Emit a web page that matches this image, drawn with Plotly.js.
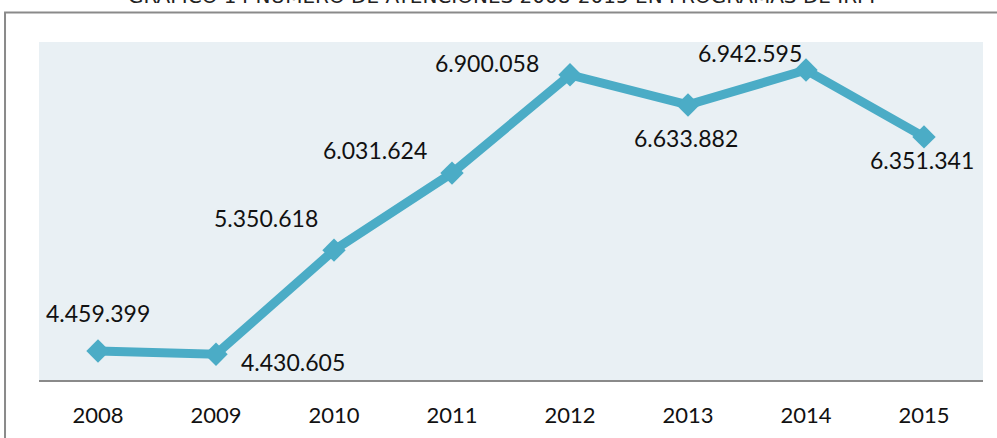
<!DOCTYPE html>
<html>
<head>
<meta charset="utf-8">
<script src="https://cdn.plot.ly/plotly-3.0.1.min.js"></script>
<style>
html,body{margin:0;padding:0;background:#fff;}
#chart{width:997px;height:438px;}
</style>
</head>
<body>
<div id="chart"></div>
<script>
const years = ["2008","2009","2010","2011","2012","2013","2014","2015"];
const atenciones = [4459399, 4430605, 5350618, 6031624, 6900058, 6633882, 6942595, 6351341];
const labels = ["4.459.399","4.430.605","5.350.618","6.031.624","6.900.058","6.633.882","6.942.595","6.351.341"];
const labelShiftX = [0, 77, -68, -77, -83, -2, -56, -2];
const labelShiftY = [38, -8, 32, 23, 12, -33, 17, -23];
const titleText = "GRÁFICO 14 NÚMERO DE ATENCIONES 2008-2015 EN PROGRAMAS DE IRPF";

const trace = {
  x: years,
  y: atenciones,
  type: "scatter",
  mode: "lines+markers",
  line: {color: "#4BACC6", width: 9},
  marker: {symbol: "diamond", size: 18, color: "#4BACC6"},
  hoverinfo: "skip",
  cliponaxis: false
};

const annotations = years.map((yr, i) => ({
  x: i, y: atenciones[i], xref: "x", yref: "y",
  text: labels[i], showarrow: false,
  xshift: labelShiftX[i], yshift: labelShiftY[i],
  font: {family: "Lato, 'Open Sans', sans-serif", size: 23, color: "#111"}
}));
annotations.push({
  xref: "paper", yref: "paper", x: 0.493, y: 1.094, yanchor: "bottom",
  text: titleText, showarrow: false,
  font: {family: "'DejaVu Sans', sans-serif", size: 20, color: "#222"}
});

const layout = {
  width: 997, height: 438,
  margin: {l: 39, r: 14, t: 42, b: 58},
  paper_bgcolor: "#ffffff",
  plot_bgcolor: "#E9F0F4",
  showlegend: false,
  xaxis: {
    type: "category", range: [-0.5, 7.5],
    showgrid: false, zeroline: false,
    showline: true, linecolor: "#8a8a8a", linewidth: 2,
    ticks: "", ticklabelstandoff: 15,
    tickfont: {family: "Lato, 'Open Sans', sans-serif", size: 22, color: "#111"},
    fixedrange: true
  },
  yaxis: {
    range: [4203000, 7190000],
    showgrid: false, zeroline: false, showline: false,
    showticklabels: false, ticks: "", fixedrange: true
  },
  annotations: annotations,
  shapes: [
    {type: "line", xref: "paper", yref: "paper", x0: -0.036, y0: -0.2, x1: -0.036, y1: 1.0873,
     line: {color: "#8a8a8a", width: 2}},
    {type: "line", xref: "paper", yref: "paper", x0: -0.037, y0: 1.0873, x1: 1.02, y1: 1.0873,
     line: {color: "#8a8a8a", width: 2}}
  ]
};

Plotly.newPlot("chart", [trace], layout, {displayModeBar: false, staticPlot: true});
</script>
</body>
</html>
